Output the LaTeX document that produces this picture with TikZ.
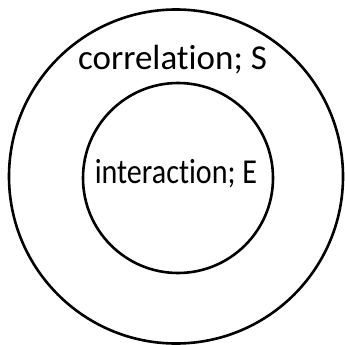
\documentclass[tikz,border=0pt]{standalone}
\usepackage{fontspec}
\setmainfont{Carlito}[Ligatures=NoCommon]
\usetikzlibrary{positioning}
\tikzset{
  every picture/.style={line width=2.6pt},
  ring/.style={draw=black, circle, inner sep=0pt, minimum size=#1},
  label/.style={font=\fontsize{35}{38}\selectfont, inner sep=0pt, anchor=base},
}
\begin{document}
\begin{tikzpicture}[x=1pt, y=-1pt]
  \useasboundingbox (0,0) rectangle (345,345);
  % outer: correlation
  \node[ring=334pt] (outer) at (176,176.5) {};
  \node[label] (corr) at (172.5,70) {correlation; S};
  % inner: interaction
  \node[ring=190pt] (inner) at (178,178) {};
  \node[label] (inter) at (176,183) {\scalebox{0.86}[1]{interaction; E}};
\end{tikzpicture}
\end{document}
